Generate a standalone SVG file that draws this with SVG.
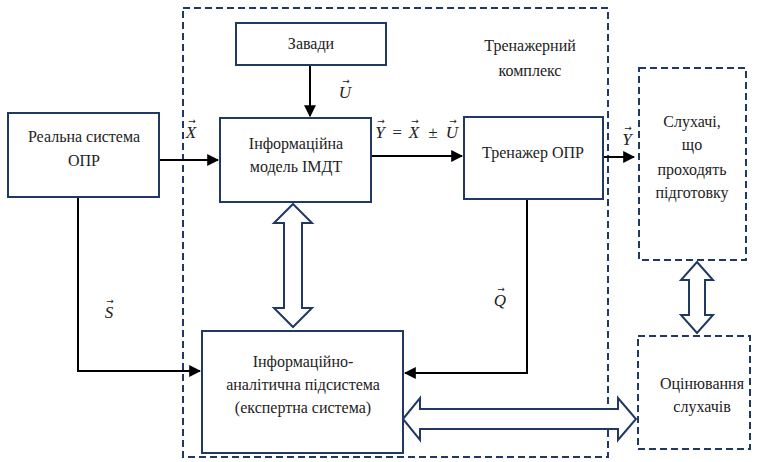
<svg xmlns="http://www.w3.org/2000/svg" width="762" height="462" viewBox="0 0 762 462">
<defs>
<style>
.box{fill:#fff;stroke:#1f3864;stroke-width:2}
.dash{fill:none;stroke:#1f3864;stroke-width:2;stroke-dasharray:7 4}
.dbl{fill:#fff;stroke:#1f3864;stroke-width:2;stroke-linejoin:miter}
.line{fill:none;stroke:#000;stroke-width:2}
text{font-family:'Liberation Serif','Times New Roman',serif}
.t{font-size:16px;fill:#222;text-anchor:middle}
.m{font-size:17px;font-style:italic;fill:#222;text-anchor:middle}
.v{font-family:'DejaVu Sans',sans-serif;font-size:9px;fill:#222;text-anchor:middle}
</style>
<marker id="ah2" viewBox="0 0 10 10" refX="9" refY="5" markerWidth="12" markerHeight="12" markerUnits="userSpaceOnUse" orient="auto">
<path d="M0,0 L10,5 L0,10 z" fill="#000"/>
</marker>
</defs>
<rect width="762" height="462" fill="#fff"/>

<g id="complex">
<rect class="dash" x="183" y="8" width="425" height="449"/>
<text class="t" x="530" y="51">Тренажерний</text>
<text class="t" x="530" y="76">комплекс</text>
</g>

<g id="connectors">
<path class="line" d="M159,160 H218" marker-end="url(#ah2)"/>
<path class="line" d="M310,65 V116" marker-end="url(#ah2)"/>
<path class="line" d="M371,156 H462" marker-end="url(#ah2)"/>
<path class="line" d="M603,157 H634" marker-end="url(#ah2)"/>
<path class="line" d="M527,199 V373 H405" marker-end="url(#ah2)"/>
<path class="line" d="M78,197 V371 H200" marker-end="url(#ah2)"/>
<path class="dbl" d="M293,204 L312,223 L302,223 L302,308 L312,308 L293,327 L274,308 L284,308 L284,223 L274,223 Z"/>
<path class="dbl" d="M697,262 L713,280 L705,280 L705,315 L713,315 L697,333 L681,315 L689,315 L689,280 L681,280 Z"/>
<path class="dbl" d="M403,419 L420,398 L420,409 L618,409 L618,398 L636,419 L618,440 L618,429 L420,429 L420,440 Z"/>
<g id="labels">
<text class="m" x="191" y="138">X</text><text class="v" x="192" y="124">→</text>
<text class="m" x="345" y="98">U</text><text class="v" x="346" y="84">→</text>
<text class="m" x="380" y="138">Y</text><text class="v" x="381" y="124">→</text>
<text class="m" x="397" y="138" font-style="normal">=</text>
<text class="m" x="414" y="138">X</text><text class="v" x="415" y="124">→</text>
<text class="m" x="433" y="138" font-style="normal">±</text>
<text class="m" x="452" y="138">U</text><text class="v" x="453" y="124">→</text>
<text class="m" x="627" y="145">Y</text><text class="v" x="628" y="131">→</text>
<text class="m" x="109" y="318">S</text><text class="v" x="110" y="304">→</text>
<text class="m" x="500" y="306">Q</text><text class="v" x="501" y="292">→</text>
</g>
</g>

<g id="real">
<rect class="box" x="8" y="113" width="151" height="84"/>
<text class="t" x="84" y="142">Реальна система</text>
<text class="t" x="84" y="166">ОПР</text>
</g>

<g id="zavady">
<rect class="box" x="236" y="23" width="150" height="42"/>
<text class="t" x="311" y="49">Завади</text>
</g>

<g id="model">
<rect class="box" x="220" y="118" width="151" height="84"/>
<text class="t" x="296" y="149">Інформаційна</text>
<text class="t" x="296" y="172">модель ІМДТ</text>
</g>

<g id="trainer">
<rect class="box" x="464" y="117" width="139" height="82"/>
<text class="t" x="533" y="158">Тренажер ОПР</text>
</g>

<g id="listeners">
<rect class="dash" x="639" y="68" width="107" height="192"/>
<text class="t" x="692" y="127">Слухачі,</text>
<text class="t" x="692" y="150">що</text>
<text class="t" x="692" y="175">проходять</text>
<text class="t" x="692" y="198">підготовку</text>
</g>

<g id="analytic">
<rect class="box" x="202" y="331" width="201" height="122"/>
<text class="t" x="303" y="367">Інформаційно-</text>
<text class="t" x="303" y="390">аналітична підсистема</text>
<text class="t" x="303" y="413">(експертна система)</text>
</g>

<g id="evaluation">
<rect class="dash" x="638" y="336" width="112" height="113"/>
<text class="t" x="702" y="389">Оцінювання</text>
<text class="t" x="702" y="412">слухачів</text>
</g>
</svg>
